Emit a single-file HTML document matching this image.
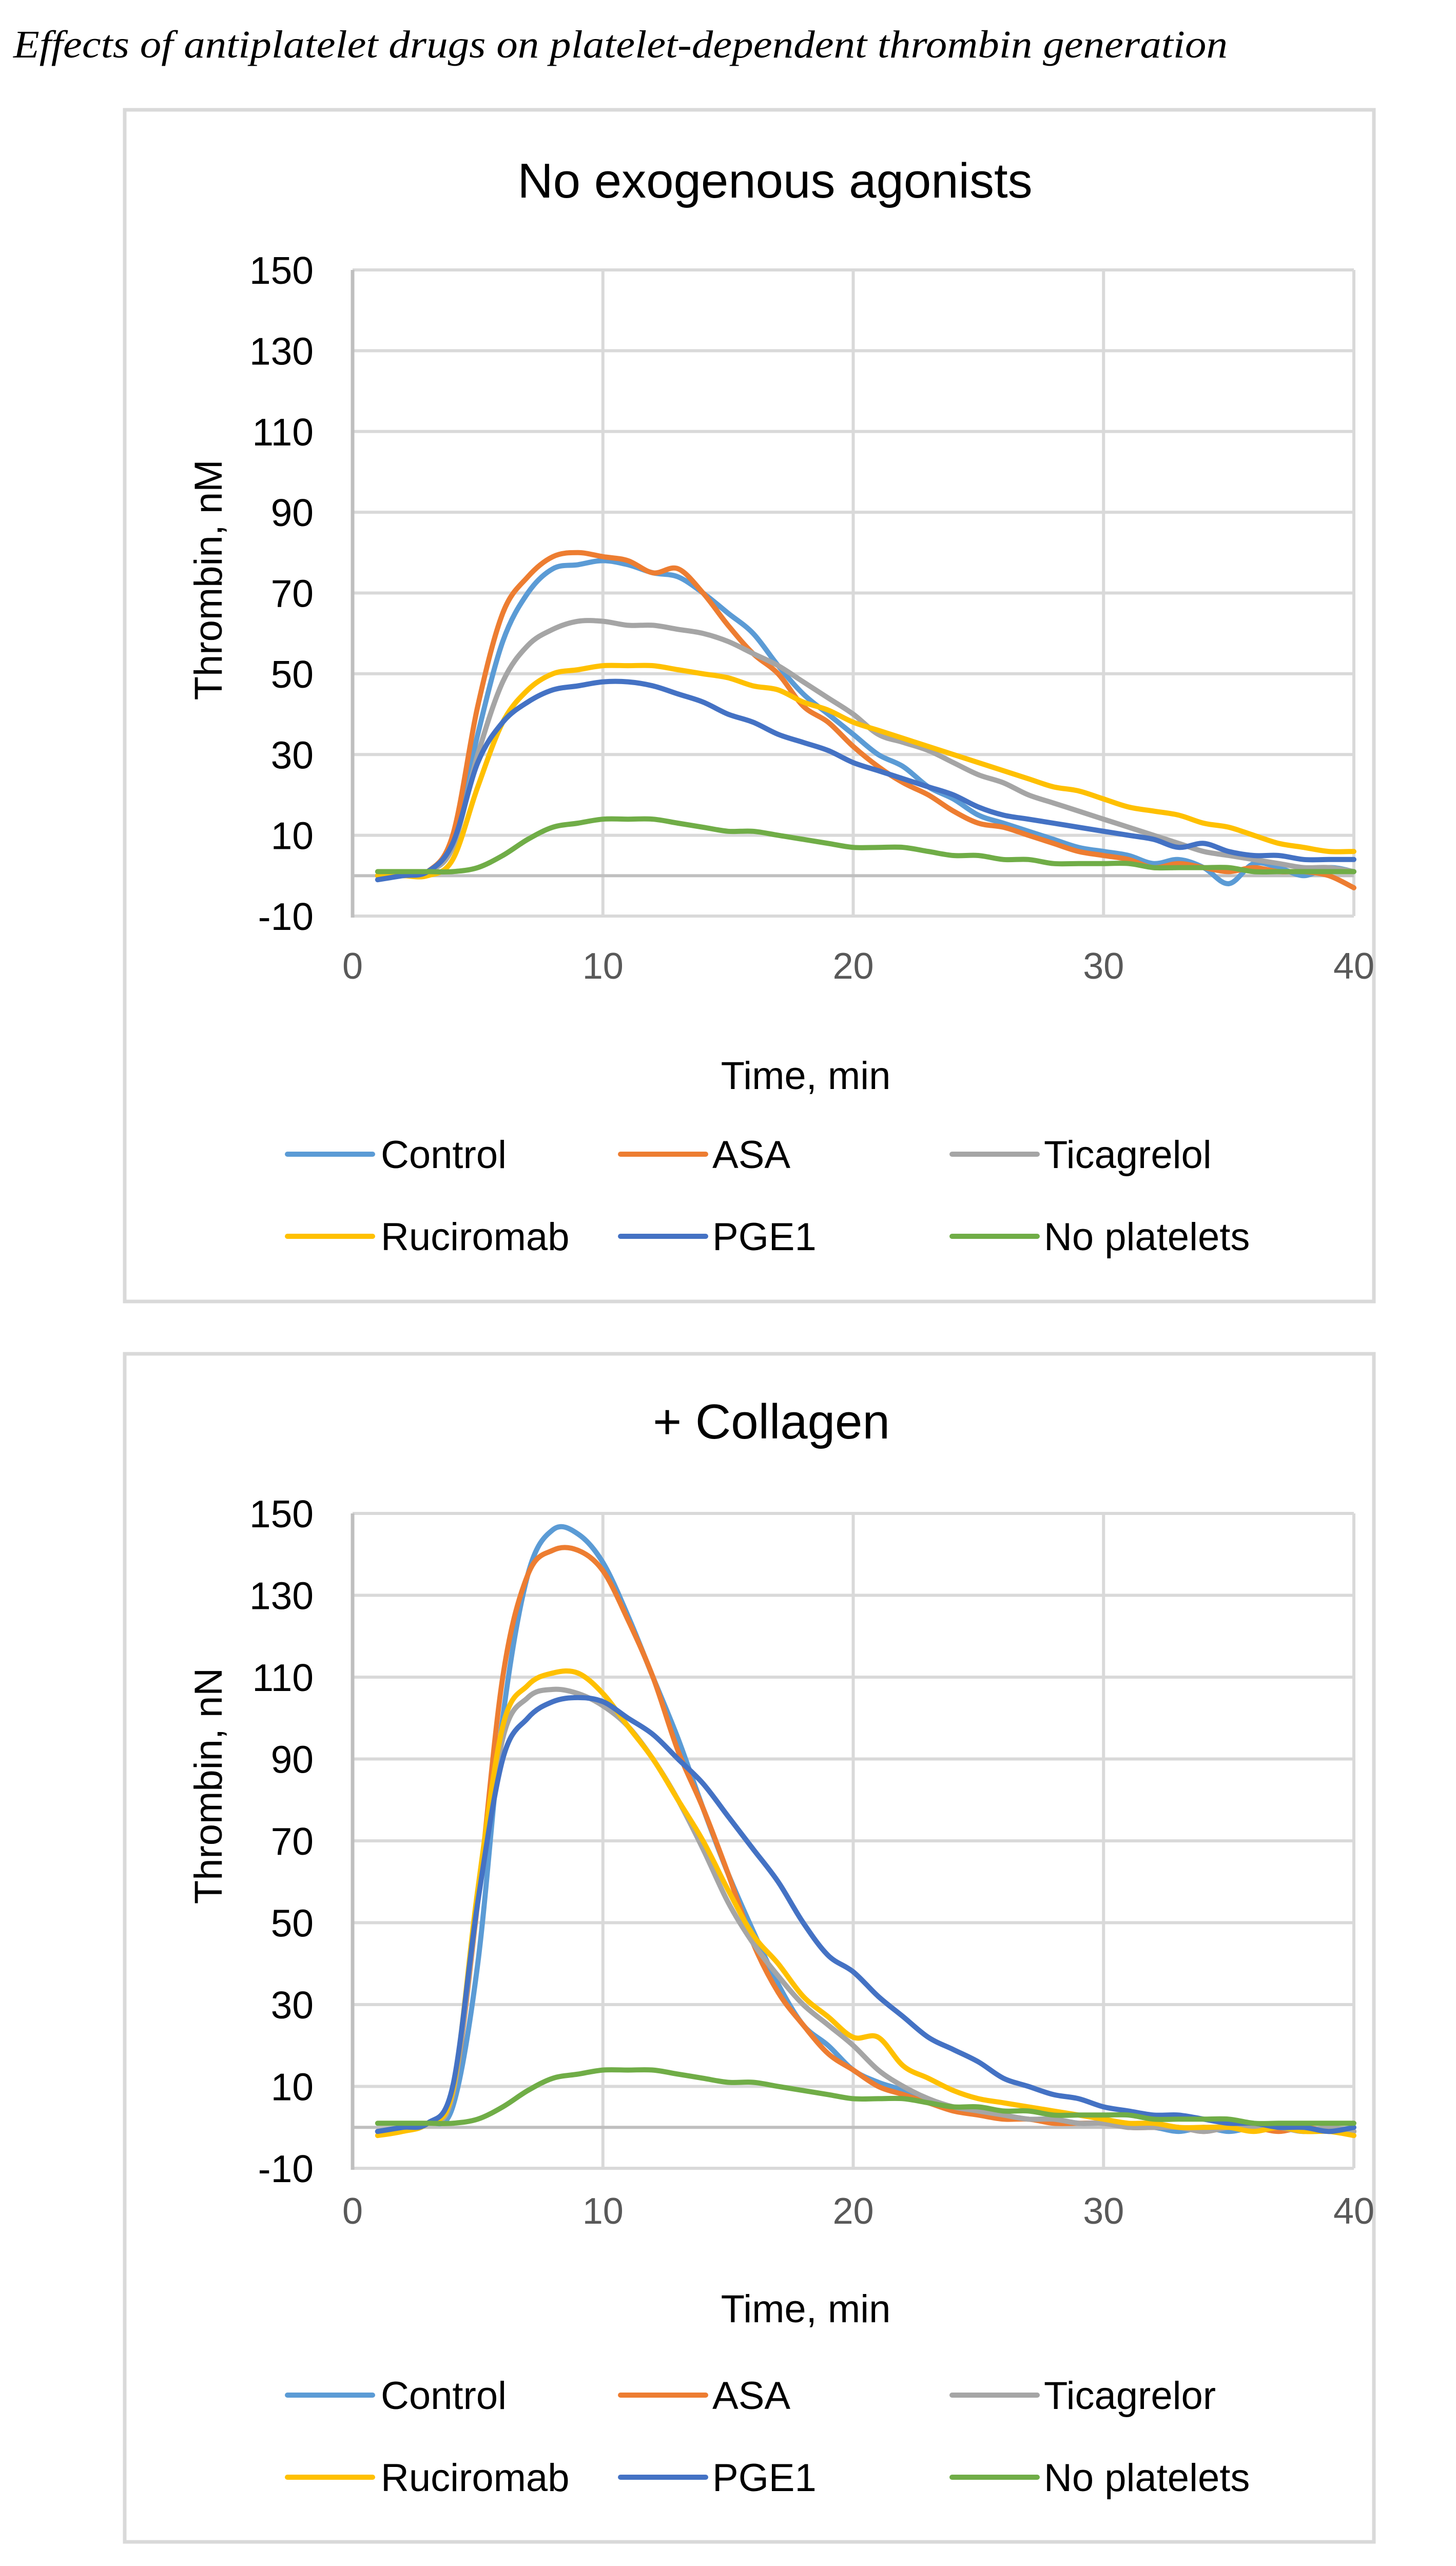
<!DOCTYPE html>
<html><head><meta charset="utf-8"><style>
html,body{margin:0;padding:0;background:#fff;overflow:hidden;width:2837px;height:5057px;}
svg{display:block;}
text{font-family:"Liberation Sans",sans-serif;}
</style></head><body>
<svg id="root" width="2837" height="5057" viewBox="0 0 2837 5057" xmlns="http://www.w3.org/2000/svg">
<rect x="0" y="0" width="2837" height="5057" fill="#fff"/>
<text x="26" y="112" font-size="76" textLength="2366" lengthAdjust="spacingAndGlyphs" fill="#000" font-style="italic" style="font-family:'Liberation Serif',serif">Effects of antiplatelet drugs on platelet-dependent thrombin generation</text>
<g id="c1"></g>
<g id="c2"></g>
</svg>
<script>
const times = [1,2,3,4,5,6,7,8,9,10,11,12,13,14,15,16,17,18,19,20,21,22,23,24,25,26,27,28,29,30,31,32,33,34,35,36,37,38,39,40];
const seriesNames1 = ["Control","ASA","Ticagrelol","Ruciromab","PGE1","No platelets"];
const seriesNames2 = ["Control","ASA","Ticagrelor","Ruciromab","PGE1","No platelets"];
const colors = ["#5b9bd5","#ed7d31","#a5a5a5","#ffc000","#4472c4","#70ad47"];
const yTicks = [-10,10,30,50,70,90,110,130,150];
const xTicks = [0,10,20,30,40];

const top_control = [0,0,1,8,35,58,70,76,77,78,77,75,74,70,65,60,52,45,40,35,30,27,22,19,15,13,11,9,7,6,5,3,4,2,-2,3,2,0,2,1];
const top_asa = [0,0,1,10,42,65,74,79,80,79,78,75,76,70,62,55,50,42,38,32,27,23,20,16,13,12,10,8,6,5,4,2,3,2,1,2,1,1,0,-3];
const top_tica = [0,0,1,7,30,48,57,61,63,63,62,62,61,60,58,55,52,48,44,40,35,33,31,28,25,23,20,18,16,14,12,10,8,6,5,4,3,2,2,1];
const top_ruci = [0,0,0,4,22,38,46,50,51,52,52,52,51,50,49,47,46,43,41,38,36,34,32,30,28,26,24,22,21,19,17,16,15,13,12,10,8,7,6,6];
const top_pge1 = [-1,0,1,8,28,38,43,46,47,48,48,47,45,43,40,38,35,33,31,28,26,24,22,20,17,15,14,13,12,11,10,9,7,8,6,5,5,4,4,4];
const top_nopl = [1,1,1,1,2,5,9,12,13,14,14,14,13,12,11,11,10,9,8,7,7,7,6,5,5,4,4,3,3,3,3,2,2,2,2,1,1,1,1,1];

const bot_control = [-1,0,1,5,40,100,135,146,145,138,125,110,95,78,62,48,35,25,20,14,11,9,6,5,4,3,2,2,1,1,0,0,-1,0,-1,0,0,-1,0,-1];
const bot_asa = [-1,0,1,8,55,110,135,141,141,136,124,110,92,78,62,45,33,25,18,14,10,8,6,4,3,2,2,1,1,1,0,0,0,-1,0,0,-1,0,-1,-1];
const bot_tica = [-1,0,1,8,55,95,105,107,106,103,98,90,80,68,55,45,37,30,25,20,14,10,7,5,4,3,2,2,1,1,0,0,0,-1,0,0,0,-1,0,-1];
const bot_ruci = [-2,-1,1,9,58,98,108,111,111,106,98,90,80,70,58,47,40,32,27,22,22,15,12,9,7,6,5,4,3,2,1,1,0,0,0,-1,0,-1,-1,-2];
const bot_pge1 = [-1,0,1,10,55,90,100,104,105,104,100,96,90,84,76,68,60,50,42,38,32,27,22,19,16,12,10,8,7,5,4,3,3,2,1,1,0,0,-1,0];
const bot_nopl = [1,1,1,1,2,5,9,12,13,14,14,14,13,12,11,11,10,9,8,7,7,7,6,5,5,4,4,3,3,3,3,2,2,2,2,1,1,1,1,1];

const NS="http://www.w3.org/2000/svg";
function mk(parent,tag,attrs,txt){const e=document.createElementNS(NS,tag);for(const k in attrs)e.setAttribute(k,attrs[k]);if(txt!==undefined)e.textContent=txt;parent.appendChild(e);return e;}
function smooth(pts){let d="M"+pts[0][0].toFixed(1)+","+pts[0][1].toFixed(1);
 for(let i=0;i<pts.length-1;i++){const p0=pts[Math.max(0,i-1)],p1=pts[i],p2=pts[i+1],p3=pts[Math.min(pts.length-1,i+2)];
 const c1x=p1[0]+(p2[0]-p0[0])/6,c1y=p1[1]+(p2[1]-p0[1])/6,c2x=p2[0]-(p3[0]-p1[0])/6,c2y=p2[1]-(p3[1]-p1[1])/6;
 d+=" C"+c1x.toFixed(1)+","+c1y.toFixed(1)+" "+c2x.toFixed(1)+","+c2y.toFixed(1)+" "+p2[0].toFixed(1)+","+p2[1].toFixed(1);}
 return d;}

function drawChart(g,cfg){
 const L=687,R=2638,T=cfg.top,B=cfg.bottom;
 const xs=t=>L+(t/40)*(R-L);
 const ys=v=>B-(v+10)/160*(B-T);
 const box=mk(g,"rect",{x:243,y:cfg.boxTop,width:2434,height:cfg.boxH,fill:"none",stroke:"#d9d9d9","stroke-width":7});
 
 
 const title=mk(g,"text",{x:cfg.titleX,y:cfg.titleY,"font-size":96,"text-anchor":"middle",fill:"#000"},cfg.title);
 
 
 yTicks.forEach(v=>{const l=mk(g,"line",{x1:L,x2:R,y1:ys(v),y2:ys(v),stroke:"#d9d9d9","stroke-width":6});
  
  
  const t=mk(g,"text",{x:611,y:ys(v)+27,"font-size":75,"text-anchor":"end",fill:"#000"},String(v));
  
  });
 xTicks.forEach(v=>{if(v>0){const l=mk(g,"line",{x1:xs(v),x2:xs(v),y1:T,y2:B,stroke:"#d9d9d9","stroke-width":6});
  
  }
  const t=mk(g,"text",{x:xs(v),y:cfg.xlabY,"font-size":72,"text-anchor":"middle",fill:"#595959"},String(v));
  
  });
 const ax=mk(g,"line",{x1:L,x2:L,y1:T,y2:B+3,stroke:"#bfbfbf","stroke-width":7});
 
 
 const zl=mk(g,"line",{x1:L,x2:R,y1:ys(0),y2:ys(0),stroke:"#bfbfbf","stroke-width":6});
 
 
 cfg.data.forEach((arr,i)=>{const pts=times.map((t,j)=>[xs(t),ys(arr[j])]);
  const p=mk(g,"path",{d:smooth(pts),fill:"none",stroke:colors[i],"stroke-width":10,"stroke-linejoin":"round","stroke-linecap":"round"});
  
  });
 const yt=mk(g,"text",{x:0,y:0,"font-size":76,"text-anchor":"middle",fill:"#000",transform:"translate(432,"+cfg.yTitleY+") rotate(-90)"},cfg.yTitle);
 
 
 const xt=mk(g,"text",{x:1570,y:cfg.xTitleY,"font-size":76,"text-anchor":"middle",fill:"#000"},"Time, min");
 
 
 const lineX=[560,1209,1855],textX=[742,1388,2034];
 cfg.names.forEach((n,i)=>{const col=i%3,row=Math.floor(i/3);const yy=cfg.legY[row];
  const lg=mk(g,"g",{});
  
  
  mk(lg,"line",{x1:lineX[col],x2:lineX[col]+166,y1:yy,y2:yy,stroke:colors[i],"stroke-width":10,"stroke-linecap":"round"});
  mk(lg,"text",{x:textX[col],y:yy+27,"font-size":76,fill:"#000"},n);});
}
drawChart(document.getElementById("c1"),{top:526,bottom:1785,boxTop:214,boxH:2322,title:"No exogenous agonists",titleX:1510,titleY:385,xlabY:1907,yTitle:"Thrombin, nM",yTitleY:1130,xTitleY:2122,legY:[2249,2409],names:seriesNames1,data:[top_control,top_asa,top_tica,top_ruci,top_pge1,top_nopl]});
drawChart(document.getElementById("c2"),{top:2949,bottom:4225,boxTop:2638,boxH:2315,title:"+ Collagen",titleX:1503,titleY:2803,xlabY:4333,yTitle:"Thrombin, nN",yTitleY:3480,xTitleY:4525,legY:[4667,4827],names:seriesNames2,data:[bot_control,bot_asa,bot_tica,bot_ruci,bot_pge1,bot_nopl]});
document.getElementById("c1");
document.getElementById("c1");
document.getElementById("c2");
document.getElementById("c2");
</script>
</body></html>
